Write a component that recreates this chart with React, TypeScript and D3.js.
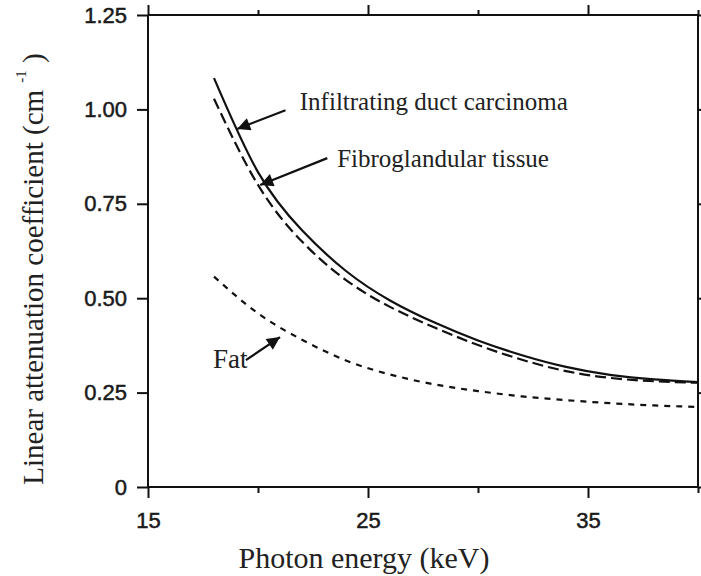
import { useEffect, useRef } from 'react';
import * as d3 from 'd3';

// photon energy (keV) and linear attenuation coefficient (cm^-1)
const energies = [18, 20, 22, 24, 26, 28, 30, 32, 34, 36, 38, 40];
const carcinoma = [1.083, 0.834, 0.68, 0.572, 0.494, 0.436, 0.388, 0.349, 0.318, 0.297, 0.285, 0.278];
const fibroglandular = [1.028, 0.8, 0.65, 0.548, 0.477, 0.423, 0.376, 0.337, 0.307, 0.289, 0.28, 0.276];
const fat = [0.557, 0.46, 0.39, 0.335, 0.298, 0.272, 0.254, 0.24, 0.23, 0.222, 0.216, 0.212];

const xTicks = [15, 20, 25, 30, 35, 40];
const xLabelTicks = [15, 25, 35];
const yTicks = [0, 0.25, 0.5, 0.75, 1.0, 1.25];

// annotations in data units: label position, arrow tail, arrow tip
const annotations = [
    { text: 'Infiltrating duct carcinoma', lx: 21.9, ly: 0.998, tail: [21.25, 0.998], tip: [19.05, 0.948] },
    { text: 'Fibroglandular tissue', lx: 23.6, ly: 0.847, tail: [23.15, 0.871], tip: [20.1, 0.8] },
    { text: 'Fat', lx: 17.95, ly: 0.315, tail: [19.45, 0.336], tip: [21.0, 0.397] },
];

const W = 701;
const H = 576;

export default function App() {
    const svgRef = useRef<SVGSVGElement>(null);

    useEffect(() => {
        document.body.style.margin = '0';
        const svg = d3.select(svgRef.current);
        svg.selectAll('*').remove();

        const x = d3.scaleLinear().domain([15, 40]).range([148, 698]);
        const y = d3.scaleLinear().domain([0, 1.25]).range([487, 15]);
        const ink = '#111';
        const sans = '"Liberation Sans", Arial, sans-serif';
        const serif = '"Liberation Serif", "Times New Roman", serif';

        // frame
        const frame = svg.append('g').attr('stroke', ink).attr('stroke-width', 2).attr('fill', 'none');
        frame.append('line').attr('x1', x(15)).attr('x2', x(15)).attr('y1', y(1.25)).attr('y2', y(0));
        frame.append('line').attr('x1', x(40)).attr('x2', x(40)).attr('y1', y(1.25)).attr('y2', y(0));
        frame.append('line').attr('x1', x(15)).attr('x2', x(40)).attr('y1', y(1.25)).attr('y2', y(1.25));
        frame.append('line').attr('x1', x(15)).attr('x2', x(40)).attr('y1', y(0)).attr('y2', y(0));

        // left axis
        const yAxis = d3.axisLeft(y)
            .tickValues(yTicks)
            .tickSize(11)
            .tickSizeOuter(0)
            .tickPadding(10)
            .tickFormat(d => (+d === 0 ? '0' : d3.format('.2f')(+d)));
        const gy = svg.append('g').attr('transform', `translate(${x(15)},0)`).call(yAxis);
        gy.select('.domain').remove();
        gy.selectAll('line').attr('stroke', ink).attr('stroke-width', 2);
        gy.selectAll('text')
            .attr('font-family', sans).attr('font-size', 22)
            .attr('fill', '#1a1a1a').attr('stroke', '#1a1a1a').attr('stroke-width', 0.5);

        // right axis ticks
        const gyr = svg.append('g').attr('transform', `translate(${x(40)},0)`)
            .call(d3.axisRight(y).tickValues(yTicks).tickSize(6).tickSizeOuter(0).tickFormat(() => ''));
        gyr.select('.domain').remove();
        gyr.selectAll('line').attr('stroke', ink).attr('stroke-width', 2);

        // bottom axis
        const xAxis = d3.axisBottom(x)
            .tickValues(xTicks)
            .tickSize(0)
            .tickSizeOuter(0)
            .tickPadding(25)
            .tickFormat(d => (xLabelTicks.includes(+d) ? String(d) : ''));
        const gx = svg.append('g').attr('transform', `translate(0,${y(0)})`).call(xAxis);
        gx.select('.domain').remove();
        gx.selectAll('.tick line')
            .attr('y2', d => (xLabelTicks.includes(+d) ? 11 : 6))
            .attr('stroke', ink).attr('stroke-width', 2);
        gx.selectAll('text')
            .attr('font-family', sans).attr('font-size', 22)
            .attr('fill', '#1a1a1a').attr('stroke', '#1a1a1a').attr('stroke-width', 0.5);

        // top axis ticks
        const gxt = svg.append('g').attr('transform', `translate(0,${y(1.25)})`)
            .call(d3.axisTop(x).tickValues(xTicks).tickSize(0).tickSizeOuter(0).tickFormat(() => ''));
        gxt.select('.domain').remove();
        gxt.selectAll('.tick line')
            .attr('y2', d => (xLabelTicks.includes(+d) ? -10 : -5))
            .attr('stroke', ink).attr('stroke-width', 2);

        // axis titles
        svg.append('text')
            .attr('x', 364)
            .attr('y', 568)
            .attr('text-anchor', 'middle')
            .attr('font-family', serif)
            .attr('font-size', 30)
            .attr('fill', '#222')
            .text('Photon energy (keV)');

        const yt = svg.append('text')
            .attr('transform', `translate(43,${(y(0) + y(1.25)) / 2 + 18}) rotate(-90)`)
            .attr('text-anchor', 'middle')
            .attr('font-family', serif)
            .attr('font-size', 29)
            .attr('fill', '#222');
        yt.append('tspan').text('Linear attenuation coefficient (cm ');
        yt.append('tspan').attr('dy', -17).attr('font-size', 15).text('-1');
        yt.append('tspan').attr('dy', 17).text(' )');

        // curves
        const line = d3.line<number>()
            .x((_, i) => x(energies[i]))
            .y(d => y(d))
            .curve(d3.curveNatural);

        const series = [
            { values: carcinoma, dash: null },
            { values: fibroglandular, dash: '11,5' },
            { values: fat, dash: '6,6' },
        ];
        svg.append('g')
            .selectAll('path')
            .data(series)
            .join('path')
            .attr('d', d => line(d.values))
            .attr('fill', 'none')
            .attr('stroke', ink)
            .attr('stroke-width', 2.2)
            .attr('stroke-dasharray', d => d.dash);

        // arrow head marker
        svg.append('defs')
            .append('marker')
            .attr('id', 'head')
            .attr('viewBox', '0 0 10 10')
            .attr('refX', 10)
            .attr('refY', 5)
            .attr('markerUnits', 'userSpaceOnUse')
            .attr('markerWidth', 16)
            .attr('markerHeight', 13)
            .attr('orient', 'auto')
            .append('path')
            .attr('d', 'M0,0 L10,5 L0,10 Z')
            .attr('fill', ink);

        const ann = svg.append('g');
        ann.selectAll('line')
            .data(annotations)
            .join('line')
            .attr('x1', d => x(d.tail[0]))
            .attr('y1', d => y(d.tail[1]))
            .attr('x2', d => x(d.tip[0]))
            .attr('y2', d => y(d.tip[1]))
            .attr('stroke', ink)
            .attr('stroke-width', 2.2)
            .attr('marker-end', 'url(#head)');

        ann.selectAll('text')
            .data(annotations)
            .join('text')
            .attr('x', d => x(d.lx))
            .attr('y', d => y(d.ly))
            .attr('font-family', serif)
            .attr('font-size', d => (d.text === 'Fat' ? 27 : 25))
            .attr('fill', '#222')
            .text(d => d.text);
    }, []);

    return <svg ref={svgRef} width={W} height={H} style={{ display: 'block', background: '#fff' }} />;
}
